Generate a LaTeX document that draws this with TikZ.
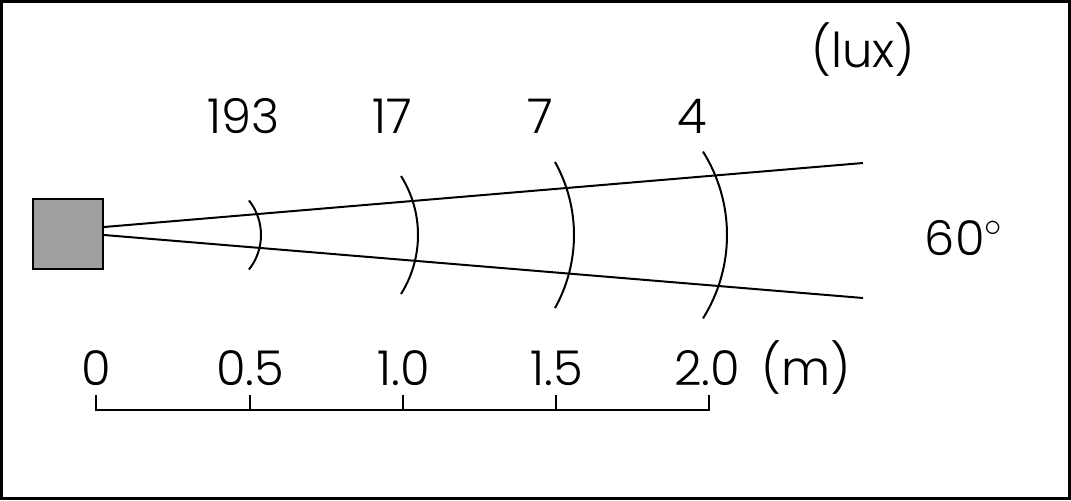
\documentclass[tikz,border=0pt]{standalone}
\usepackage{fontspec}
\setmainfont{Poppins}[UprightFont=* Light]
\usetikzlibrary{positioning}
\definecolor{boxgray}{RGB}{159,159,159}

\begin{document}
\begin{tikzpicture}[x=0.5pt,y=0.5pt,
    txt/.style={font=\fontsize{24}{28}\selectfont,inner sep=0pt,anchor=base},
    beam/.style={line width=1pt},
    source/.style={draw,line width=1pt,fill=boxgray,minimum size=35pt,inner sep=0pt}]
  \useasboundingbox (0,0) rectangle (1071,500);
  \draw[line width=1.5pt] (1.5,1.5) rectangle (1069.5,498.5);

  \node[source]		(src)	at (68,266)	{};
  \coordinate		(topend)	at (863,337);
  \coordinate		(botend)	at (863,202);
  \draw[beam] ([yshift=3.5pt]src.east) -- (topend);
  \draw[beam] ([yshift=-0.5pt]src.east) -- (botend);

  % wave fronts
  \foreach \ax/\r/\t in {261/27.8/38.4, 418/55.5/32.1, 574/74.9/29.2, 727/78.5/32.1}
    \draw[beam] (\ax,265) arc[start angle=0,end angle=\t,radius=\r pt]
                (\ax,265) arc[start angle=0,end angle=-\t,radius=\r pt];

  \node[txt]	(lux)	at (863,433)	{(lux)};
  \node[txt]	(l05)	at (244,367)	{193};
  \node[txt]	(l10)	at (392,367)	{17};
  \node[txt]	(l15)	at (540,367)	{7};
  \node[txt]	(l20)	at (692,367)	{4};
  \node[txt]	(angle)	at (964,245)	{60$^\circ$};

  % distance scale
  \draw[beam] (96,105) -- (96,90) -- (709,90) -- (709,105);
  \foreach \x in {250,403,556}
    \draw[beam] (\x,90) -- (\x,105);
  \node[txt]	(m0)	at (96,115)	{0};
  \node[txt]	(m05)	at (250,115)	{0.5};
  \node[txt]	(m10)	at (404,115)	{1.0};
  \node[txt]	(m15)	at (557,115)	{1.5};
  \node[txt]	(m20)	at (707,115)	{2.0};
  \node[txt]	(unit)	at (806,115)	{(m)};
\end{tikzpicture}
\end{document}
